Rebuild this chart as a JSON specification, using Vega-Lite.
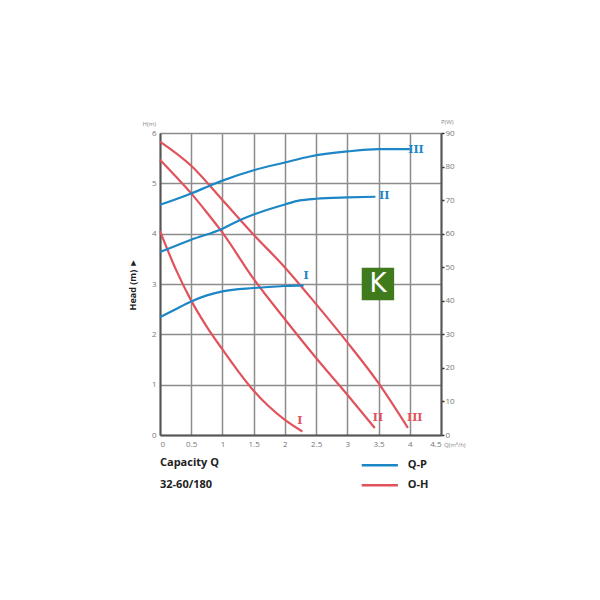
{
  "$schema": "https://vega.github.io/schema/vega-lite/v6.json",
  "width": 281,
  "height": 302,
  "autosize": {"type": "none"},
  "padding": {"left": 160, "top": 133, "right": 159, "bottom": 165},
  "background": "white",
  "config": {
    "view": {"stroke": null},
    "axis": {"labelFont": "Open Sans", "labelFontSize": 8, "labelColor": "#777", "titleFont": "Open Sans"},
    "axisX": {"tickCount": 10, "format": "~g", "grid": true, "gridColor": "#8c8c8c", "gridWidth": 1.5,
      "domainColor": "#555", "domainWidth": 2, "ticks": false, "labelPadding": 5},
    "axisLeft": {"tickCount": 6, "format": "d", "grid": true, "gridColor": "#8c8c8c", "gridWidth": 1.5,
      "domainColor": "#555", "domainWidth": 2, "ticks": false, "labelPadding": 4,
      "titleFontSize": 9, "titleFontWeight": "bold", "titleColor": "#222", "titlePadding": 14},
    "axisRight": {"tickCount": 10, "format": "d", "grid": false, "domainColor": "#555", "domainWidth": 2,
      "ticks": true, "tickSize": 3, "tickColor": "#333", "tickWidth": 1.5, "labelPadding": 1}
  },
  "datasets": {
    "qh": [
      {"curve": "I", "q": 0, "h": 4.05}, {"curve": "I", "q": 0.25, "h": 3.3}, {"curve": "I", "q": 0.5, "h": 2.67},
      {"curve": "I", "q": 0.75, "h": 2.15}, {"curve": "I", "q": 1.0, "h": 1.7}, {"curve": "I", "q": 1.25, "h": 1.27},
      {"curve": "I", "q": 1.5, "h": 0.88}, {"curve": "I", "q": 1.75, "h": 0.56}, {"curve": "I", "q": 2.0, "h": 0.3},
      {"curve": "I", "q": 2.28, "h": 0.07},
      {"curve": "II", "q": 0, "h": 5.47}, {"curve": "II", "q": 0.25, "h": 5.14}, {"curve": "II", "q": 0.5, "h": 4.8},
      {"curve": "II", "q": 0.75, "h": 4.42}, {"curve": "II", "q": 1.0, "h": 4.02}, {"curve": "II", "q": 1.5, "h": 3.1},
      {"curve": "II", "q": 2.0, "h": 2.3}, {"curve": "II", "q": 2.5, "h": 1.53}, {"curve": "II", "q": 3.0, "h": 0.8},
      {"curve": "II", "q": 3.44, "h": 0.14},
      {"curve": "III", "q": 0, "h": 5.83}, {"curve": "III", "q": 0.5, "h": 5.35}, {"curve": "III", "q": 1.0, "h": 4.67},
      {"curve": "III", "q": 1.5, "h": 3.98}, {"curve": "III", "q": 2.0, "h": 3.33}, {"curve": "III", "q": 2.5, "h": 2.6},
      {"curve": "III", "q": 3.0, "h": 1.84}, {"curve": "III", "q": 3.5, "h": 1.03}, {"curve": "III", "q": 3.97, "h": 0.14}
    ],
    "qp": [
      {"curve": "I", "q": 0, "p": 35.1}, {"curve": "I", "q": 0.25, "p": 37.5}, {"curve": "I", "q": 0.5, "p": 39.8},
      {"curve": "I", "q": 0.75, "p": 41.6}, {"curve": "I", "q": 1.0, "p": 42.8}, {"curve": "I", "q": 1.5, "p": 43.8},
      {"curve": "I", "q": 2.0, "p": 44.4}, {"curve": "I", "q": 2.3, "p": 44.6},
      {"curve": "II", "q": 0, "p": 54.5}, {"curve": "II", "q": 0.5, "p": 58.2}, {"curve": "II", "q": 1.0, "p": 61.5},
      {"curve": "II", "q": 1.25, "p": 63.8}, {"curve": "II", "q": 1.5, "p": 65.7}, {"curve": "II", "q": 2.0, "p": 68.7},
      {"curve": "II", "q": 2.24, "p": 69.9}, {"curve": "II", "q": 2.5, "p": 70.4}, {"curve": "II", "q": 3.0, "p": 70.8},
      {"curve": "II", "q": 3.45, "p": 71.0},
      {"curve": "III", "q": 0, "p": 68.6}, {"curve": "III", "q": 0.5, "p": 72.0}, {"curve": "III", "q": 0.8, "p": 74.3},
      {"curve": "III", "q": 1.0, "p": 75.8}, {"curve": "III", "q": 1.5, "p": 78.9}, {"curve": "III", "q": 2.0, "p": 81.2},
      {"curve": "III", "q": 2.4, "p": 83.0}, {"curve": "III", "q": 3.0, "p": 84.5}, {"curve": "III", "q": 3.5, "p": 85.2},
      {"curve": "III", "q": 4.0, "p": 85.2}
    ],
    "hlabels": [
      {"label": "I", "q": 2.24, "h": 0.28}, {"label": "II", "q": 3.49, "h": 0.34}, {"label": "III", "q": 4.08, "h": 0.34}
    ],
    "plabels": [
      {"label": "I", "q": 2.34, "p": 47.4}, {"label": "II", "q": 3.59, "p": 71.2}, {"label": "III", "q": 4.1, "p": 84.9}
    ],
    "legend": [
      {"name": "Q-P", "q": 3.23, "q2": 3.81, "h": -0.6, "c": "#1d86c6"},
      {"name": "O-H", "q": 3.23, "q2": 3.81, "h": -1.0, "c": "#e0525c"}
    ],
    "notes": [
      {"text": "Capacity Q", "q": 0, "h": -0.56},
      {"text": "32-60/180", "q": 0, "h": -0.99}
    ],
    "units": [
      {"text": "H(m)", "q": -0.17, "h": 6.18, "align": "center"},
      {"text": "P(W)", "q": 4.6, "h": 6.22, "align": "center"},
      {"text": "Q(m³/h)", "q": 4.72, "h": -0.2, "align": "left"}
    ],
    "logo": [{"q": 3.49, "h": 3.0, "t": "K"}]
  },
  "layer": [
    {
      "encoding": {
        "x": {"field": "q", "type": "quantitative", "scale": {"domain": [0, 4.5], "nice": false}, "axis": {"title": null}},
        "y": {"field": "h", "type": "quantitative", "scale": {"domain": [0, 6], "nice": false}, "axis": {"title": "Head (m) ►"}}
      },
      "layer": [
        {
          "data": {"name": "qh"},
          "mark": {"type": "line", "color": "#e0525c", "strokeWidth": 2.2, "interpolate": "monotone", "clip": false},
          "encoding": {"detail": {"field": "curve"}}
        },
        {
          "data": {"name": "hlabels"},
          "mark": {"type": "text", "color": "#e0525c", "font": "DejaVu Serif", "fontSize": 11, "fontWeight": "bold", "clip": false},
          "encoding": {"text": {"field": "label"}}
        },
        {
          "data": {"name": "legend"},
          "mark": {"type": "rule", "strokeWidth": 2.5, "clip": false},
          "encoding": {
            "x2": {"field": "q2"},
            "color": {"field": "c", "type": "nominal", "scale": null}
          }
        },
        {
          "data": {"name": "legend"},
          "mark": {"type": "text", "align": "left", "baseline": "middle", "font": "Open Sans", "fontSize": 11, "fontWeight": "bold", "color": "#222", "clip": false, "dx": 46},
          "encoding": {"text": {"field": "name"}}
        },
        {
          "data": {"name": "notes"},
          "mark": {"type": "text", "align": "left", "baseline": "middle", "font": "Open Sans", "fontSize": 11, "fontWeight": "bold", "color": "#222", "clip": false},
          "encoding": {"text": {"field": "text"}}
        },
        {
          "data": {"name": "units"},
          "mark": {"type": "text", "baseline": "middle", "font": "Open Sans", "fontSize": 6, "color": "#888", "clip": false},
          "encoding": {
            "text": {"field": "text"},
            "align": {"field": "align", "type": "nominal", "scale": null}
          }
        },
        {
          "data": {"name": "logo"},
          "mark": {"type": "square", "size": 1050, "filled": true, "color": "#3f7a1c", "opacity": 1}
        },
        {
          "data": {"name": "logo"},
          "mark": {"type": "text", "color": "white", "font": "DejaVu Sans", "fontSize": 26, "fontWeight": "normal", "baseline": "middle"},
          "encoding": {"text": {"field": "t"}}
        }
      ]
    },
    {
      "encoding": {
        "x": {"field": "q", "type": "quantitative", "axis": {"title": null}},
        "y": {"field": "p", "type": "quantitative", "scale": {"domain": [0, 90], "nice": false}, "axis": {"orient": "right", "title": null}}
      },
      "layer": [
        {
          "data": {"name": "qp"},
          "mark": {"type": "line", "color": "#1d86c6", "strokeWidth": 2.2, "interpolate": "monotone"},
          "encoding": {"detail": {"field": "curve"}}
        },
        {
          "data": {"name": "plabels"},
          "mark": {"type": "text", "color": "#1d86c6", "font": "DejaVu Serif", "fontSize": 11, "fontWeight": "bold", "clip": false},
          "encoding": {"text": {"field": "label"}}
        }
      ]
    }
  ],
  "resolve": {"scale": {"y": "independent"}}
}
